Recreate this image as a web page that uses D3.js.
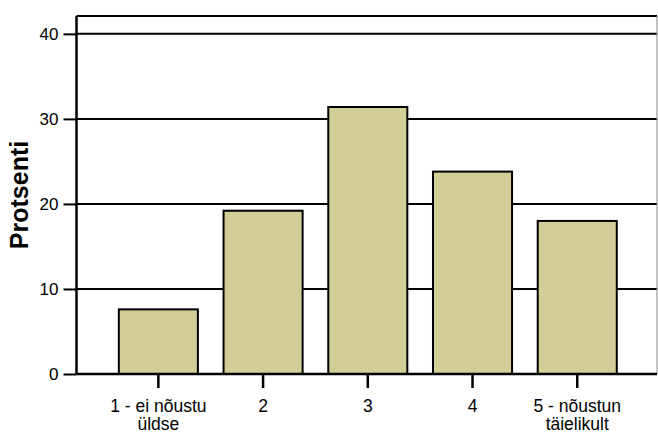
<!DOCTYPE html>
<html>
<head>
<meta charset="utf-8">
<script src="https://cdn.jsdelivr.net/npm/d3@7"></script>
<style>
  body { margin: 0; background: #fff; }
  text { font-family: "Liberation Sans", Arial, sans-serif; }
</style>
</head>
<body>
<svg id="chart" width="658" height="433"></svg>
<script>
const categories = ['1 - ei nõustu\nüldse', '2', '3', '4', '5 - nõustun\ntäielikult'];
const percents = [7.6, 19.2, 31.4, 23.8, 18.0];
const yTicks = [0, 10, 20, 30, 40];

const svg = d3.select('#chart');
const plotLeft = 76.5, plotRight = 657, plotTop = 16, plotBottom = 374;

const x = d3.scaleBand()
  .domain(categories)
  .range([106, 629.6])
  .paddingInner(0.245)
  .paddingOuter(0.1225);

const y = d3.scaleLinear()
  .domain([0, 42.1])
  .range([plotBottom, plotTop]);

// gridlines
svg.append('g')
  .selectAll('line')
  .data(yTicks.slice(1))
  .enter()
  .append('line')
  .attr('x1', plotLeft)
  .attr('x2', plotRight)
  .attr('y1', (d) => y(d))
  .attr('y2', (d) => y(d))
  .attr('stroke', '#000')
  .attr('stroke-width', 2);

// bars
svg.append('g')
  .selectAll('rect')
  .data(percents)
  .enter()
  .append('rect')
  .attr('x', (d, i) => x(categories[i]))
  .attr('y', (d) => y(d))
  .attr('width', x.bandwidth())
  .attr('height', (d) => y(0) - y(d))
  .attr('fill', '#d3ce97')
  .attr('stroke', '#000')
  .attr('stroke-width', 2);

// frame: top and right
svg.append('line')
  .attr('x1', plotLeft).attr('x2', plotRight)
  .attr('y1', plotTop).attr('y2', plotTop)
  .attr('stroke', '#000').attr('stroke-width', 2);
svg.append('line')
  .attr('x1', plotRight).attr('x2', plotRight)
  .attr('y1', plotTop).attr('y2', plotBottom)
  .attr('stroke', '#888').attr('stroke-width', 1);

// y axis
const yAxis = svg.append('g')
  .attr('transform', `translate(${plotLeft},0)`)
  .call(d3.axisLeft(y).tickValues(yTicks).tickSize(13).tickPadding(5));
yAxis.select('.domain')
  .attr('d', `M0,${plotTop}V${plotBottom}`)
  .attr('stroke-width', 2.5);
yAxis.selectAll('.tick line').attr('stroke-width', 2);
yAxis.selectAll('.tick text')
  .attr('font-size', 17)
  .attr('fill', '#000')
  .style('font-family', '"Liberation Sans", Arial, sans-serif');

// x axis
const xAxis = svg.append('g')
  .attr('transform', `translate(0,${plotBottom})`)
  .call(d3.axisBottom(x).tickSize(14).tickFormat(''));
xAxis.select('.domain')
  .attr('d', `M${plotLeft},0H${plotRight}`)
  .attr('stroke-width', 2.5);
xAxis.selectAll('.tick line').attr('stroke-width', 2.5);
xAxis.selectAll('.tick')
  .append('text')
  .attr('fill', '#000')
  .attr('font-size', 17.5)
  .attr('text-anchor', 'middle')
  .style('font-family', '"Liberation Sans", Arial, sans-serif')
  .selectAll('tspan')
  .data((d) => d.split('\n'))
  .enter()
  .append('tspan')
  .attr('x', 0)
  .attr('y', (d, i) => 37.5 + i * 18.5)
  .text((d) => d);

// y title
svg.append('text')
  .attr('transform', `translate(28,${(plotTop + plotBottom) / 2}) rotate(-90)`)
  .attr('text-anchor', 'middle')
  .attr('font-size', 25)
  .attr('font-weight', 'bold')
  .text('Protsenti');
</script>
</body>
</html>
